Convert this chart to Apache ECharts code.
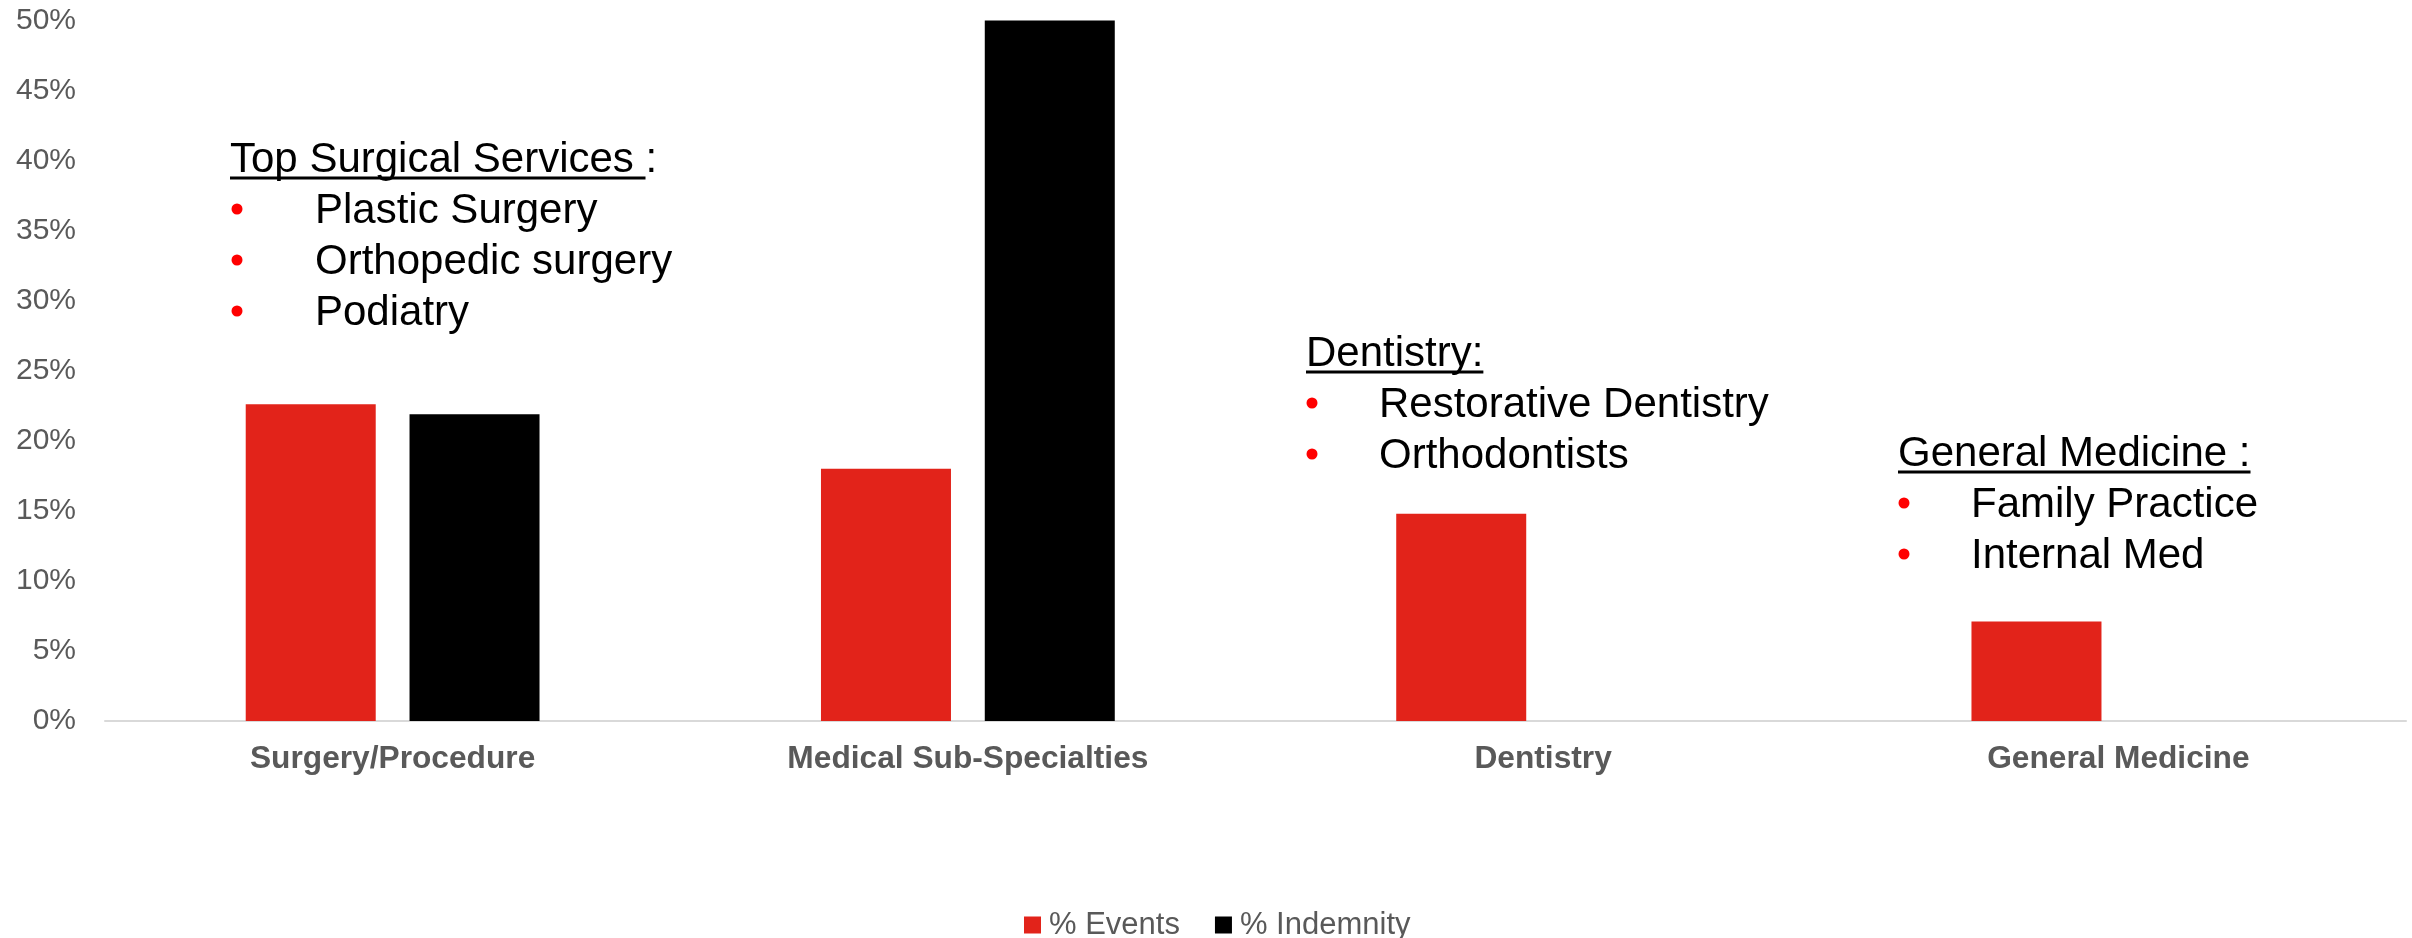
<!DOCTYPE html>
<html>
<head>
<meta charset="utf-8">
<script src="https://cdn.jsdelivr.net/npm/echarts@6/dist/echarts.min.js"></script>
<style>
  html, body { margin: 0; padding: 0; background: #ffffff; }
  #chart { width: 2412px; height: 938px; }
</style>
</head>
<body>
<div id="chart"></div>
<script>
// Share of events and of indemnity by specialty group (percent)
const categories = ['Surgery/Procedure', 'Medical Sub-Specialties', 'Dentistry', 'General Medicine'];
const seriesNames = ['% Events', '% Indemnity'];
const eventsPct = [22.6, 18.0, 14.8, 7.1];
const indemnityPct = [21.9, 50.0, 0, 0];
const yTicks = { min: 0, max: 50, interval: 5 };

// Callout text blocks
const surgicalHeader = 'Top Surgical Services :';
const surgicalItems = ['Plastic Surgery', 'Orthopedic surgery', 'Podiatry'];
const dentistryHeader = 'Dentistry:';
const dentistryItems = ['Restorative Dentistry', 'Orthodontists'];
const generalHeader = 'General Medicine :';
const generalItems = ['Family Practice', 'Internal Med'];

const FONT = "'Liberation Sans', Arial, Helvetica, sans-serif";
const TEXT_GREY = '#595959';
const RED = '#e2231a';
const BULLET_RED = '#ff0000';
const NOTE_SIZE = 42;
const LINE_STEP = 51;
const TEXT_NUDGE = 2;

// Callout placement: header left/centre, underline run, bullet column, item column
const calloutLayout = [
  { header: surgicalHeader, items: surgicalItems, underlineText: 'Top Surgical Services ',
    x: 230, y: 158, bulletX: 237, itemX: 315 },
  { header: dentistryHeader, items: dentistryItems, underlineText: dentistryHeader,
    x: 1306, y: 352, bulletX: 1312, itemX: 1379 },
  { header: generalHeader, items: generalItems, underlineText: generalHeader,
    x: 1898, y: 452, bulletX: 1904, itemX: 1971 }
];

const measureCtx = document.createElement('canvas').getContext('2d');
measureCtx.font = NOTE_SIZE + 'px ' + FONT;

const graphics = [];
calloutLayout.forEach(function (c) {
  graphics.push({
    type: 'text', x: c.x, y: c.y + TEXT_NUDGE, silent: true,
    style: { text: c.header, fill: '#000000', font: NOTE_SIZE + 'px ' + FONT,
             textAlign: 'left', textVerticalAlign: 'middle', verticalAlign: 'middle' }
  });
  const w = measureCtx.measureText(c.underlineText).width;
  graphics.push({
    type: 'line', silent: true,
    shape: { x1: c.x, y1: c.y + 20, x2: c.x + w, y2: c.y + 20 },
    style: { stroke: '#000000', lineWidth: 3 }
  });
  c.items.forEach(function (item, i) {
    const yy = c.y + LINE_STEP * (i + 1);
    graphics.push({
      type: 'circle', silent: true,
      shape: { cx: c.bulletX, cy: yy, r: 5.5 },
      style: { fill: BULLET_RED }
    });
    graphics.push({
      type: 'text', x: c.itemX, y: yy + TEXT_NUDGE, silent: true,
      style: { text: item, fill: '#000000', font: NOTE_SIZE + 'px ' + FONT,
               textAlign: 'left', textVerticalAlign: 'middle', verticalAlign: 'middle' }
    });
  });
});

const chart = echarts.init(document.getElementById('chart'), null, { renderer: 'canvas' });
chart.setOption({
  animation: false,
  backgroundColor: '#ffffff',
  grid: { left: 105, right: 6, top: 20.5, bottom: 217, containLabel: false },
  legend: {
    data: seriesNames,
    left: 1024,
    top: 909.5,
    padding: 0,
    itemWidth: 17,
    itemHeight: 17,
    itemGap: 35,
    icon: 'rect',
    textStyle: { color: TEXT_GREY, fontSize: 31, fontFamily: FONT, lineHeight: 30, padding: [0, 0, 0, 3] }
  },
  xAxis: {
    type: 'category',
    data: categories,
    axisTick: { show: false },
    axisLine: { show: true, lineStyle: { color: '#d9d9d9', width: 2 } },
    axisLabel: { color: TEXT_GREY, fontSize: 31.7, fontWeight: 'bold', fontFamily: FONT, margin: 22, interval: 0 }
  },
  yAxis: {
    type: 'value',
    min: yTicks.min,
    max: yTicks.max,
    interval: yTicks.interval,
    axisLine: { show: false },
    axisTick: { show: false },
    splitLine: { show: false },
    axisLabel: { color: TEXT_GREY, fontSize: 30, fontFamily: FONT, margin: 29, formatter: '{value}%' }
  },
  series: [
    { name: seriesNames[0], type: 'bar', data: eventsPct, barWidth: 130, barGap: '26%',
      itemStyle: { color: RED } },
    { name: seriesNames[1], type: 'bar', data: indemnityPct, barWidth: 130, barGap: '26%',
      itemStyle: { color: '#000000' } }
  ],
  graphic: graphics
});
</script>
</body>
</html>
